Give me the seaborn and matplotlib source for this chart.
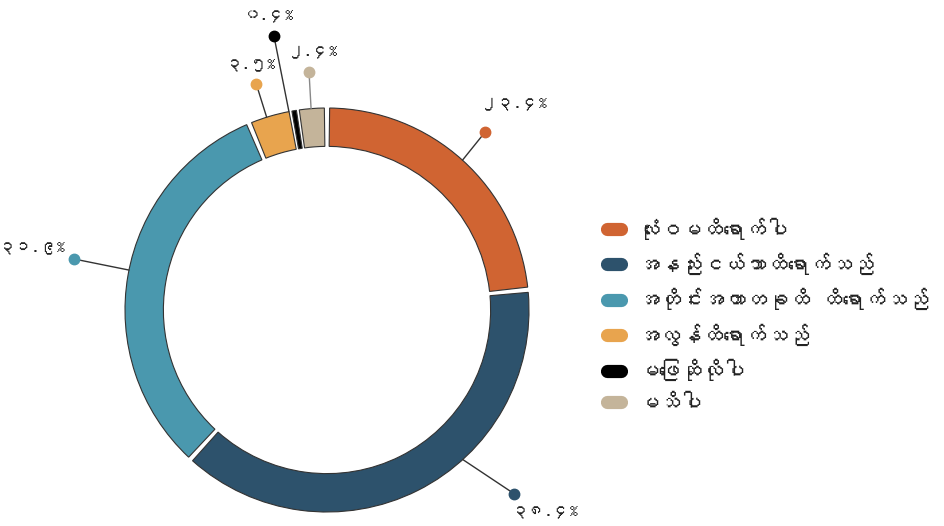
import numpy as np
import pandas as pd
import seaborn as sns
import matplotlib
matplotlib.use("Agg")
import matplotlib.pyplot as plt
from matplotlib import font_manager
from matplotlib.lines import Line2D

categories = ["လုံးဝမထိရောက်ပါ", "အနည်းငယ်သာထိရောက်သည်", "အတိုင်းအတာတခုထိ ထိရောက်သည်",
              "အလွန်ထိရောက်သည်", "မဖြေဆိုလိုပါ", "မသိပါ"]
values = [23.4, 38.4, 31.9, 3.5, 0.4, 2.4]
value_labels = ["၂၃.၄%", "၃၈.၄%", "၃၁.၉%", "၃.၅%", "၀.၄%", "၂.၄%"]
colors = ["#D06432", "#2D526C", "#4A98AE", "#E8A44E", "#000000", "#C4B49A"]

sns.set_theme(style="white")

# find a font that can draw Myanmar script, if any
fam = []
try:
    from matplotlib.ft2font import FT2Font
    for f in font_manager.fontManager.ttflist:
        try:
            cm = FT2Font(f.fname).get_charmap()
            if 0x1000 in cm and 0x1004 in cm:
                fam.append(f.name)
                break
        except Exception:
            pass
except Exception:
    pass
plt.rcParams['font.family'] = fam + ['DejaVu Sans']

df = pd.DataFrame({"category": categories, "value": values, "label": value_labels, "color": colors})

W, H = 945, 526
fig = plt.figure(figsize=(W / 100, H / 100), dpi=100)
cx, cy, R = 327, 310, 202
ax = fig.add_axes([(cx - R) / W, (H - cy - R) / H, 2 * R / W, 2 * R / H])

wedges, _ = ax.pie(df["value"], colors=df["color"], startangle=90, counterclock=False,
                   radius=1.0, wedgeprops=dict(width=0.19, edgecolor="#333333", linewidth=0.8))

gap = 0.75
minspan = 1.3
for w in wedges:
    t1, t2 = w.theta1, w.theta2
    span = t2 - t1
    s = max(0.0, min(gap, (span - minspan) / 2))
    w.set_theta1(t1 + s)
    w.set_theta2(t2 - s)

ax.set_xlim(-1, 1)
ax.set_ylim(-1, 1)
ax.set_aspect("equal")
ax.axis("off")

# label layout: (anchor shift deg, dot shift deg, dot radius, text dx px, text dy px, ha)
layout = [(0.0, 0.5, 1.18, 29, 28, "center"),
          (15.6, 18.9, 1.30, 31, -18, "center"),
          (-1.5, -1.5, 1.28, -8, 11, "right"),
          (1.0, 1.0, 1.17, -6, 20, "center"),
          (1.5, 1.6, 1.38, -5, 21, "center"),
          (0.2, 0.0, 1.18, 4, 21, "center")]

for w, lab, col, (ash, dsh, rd, tdx, tdy, ha) in zip(wedges, df["label"], df["color"], layout):
    mid = (w.theta1 + w.theta2) / 2
    a0 = np.deg2rad(mid + ash)
    a1 = np.deg2rad(mid + dsh)
    x0, y0 = np.cos(a0), np.sin(a0)
    x1, y1 = rd * np.cos(a1), rd * np.sin(a1)
    lc = "#888888" if col == "#C4B49A" else "#333333"
    ax.plot([x0, x1], [y0, y1], color=lc, lw=1.0, clip_on=False, zorder=3)
    ax.plot([x1], [y1], "o", color=col, ms=7.5, clip_on=False, zorder=4)
    ax.annotate(lab, (x1, y1), xytext=(tdx, tdy), textcoords="offset pixels",
                ha=ha, va="center", fontsize=12, color="#222222",
                annotation_clip=False)

handles = [Line2D([0], [0], color=c, lw=9.5, solid_capstyle="round") for c in df["color"]]
leg = fig.legend(handles, df["category"], loc="upper left",
                 bbox_to_anchor=(588 / W, 1 - 198 / H), frameon=False,
                 fontsize=15.5, handlelength=0.65, handletextpad=0.75, labelspacing=0.61,
                 labelcolor="#222222")

fig.savefig("out.png", dpi=100, facecolor="white")
